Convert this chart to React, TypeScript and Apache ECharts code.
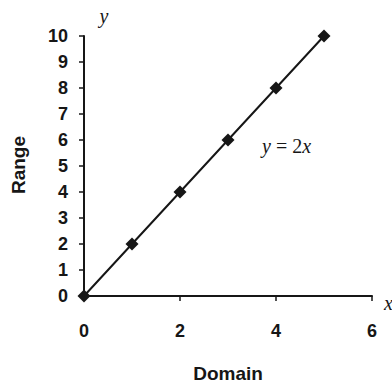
import React, { useEffect, useRef } from "react";
import * as echarts from "echarts";

// Domain values and the corresponding range values of y = 2x
const domainValues = [0, 1, 2, 3, 4, 5];
const rangeValues = [0, 2, 4, 6, 8, 10];

const xTicks = { min: 0, max: 6, interval: 2 };
const yTicks = { min: 0, max: 10, interval: 1 };

const INK = "#161616";

export default function App() {
  const ref = useRef<HTMLDivElement>(null);

  useEffect(() => {
    if (!ref.current) return;
    const chart = echarts.init(ref.current, undefined, { renderer: "svg" });
    const points = domainValues.map((x, i) => [x, rangeValues[i]]);
    chart.setOption({
      animation: false,
      backgroundColor: "#ffffff",
      grid: { left: 84, right: 20, top: 36, bottom: 82, containLabel: false },
      xAxis: {
        type: "value",
        min: xTicks.min,
        max: xTicks.max,
        interval: xTicks.interval,
        axisLine: { onZero: false, lineStyle: { color: INK, width: 2 } },
        axisTick: { show: true, length: 5, lineStyle: { color: INK, width: 1.5 } },
        splitLine: { show: false },
        axisLabel: {
          color: INK,
          fontFamily: "Liberation Sans, Arial, sans-serif",
          fontWeight: "bold",
          fontSize: 18,
          margin: 26,
        },
        name: "Domain",
        nameLocation: "middle",
        nameGap: 68,
        nameTextStyle: {
          color: INK,
          fontFamily: "Liberation Sans, Arial, sans-serif",
          fontWeight: "bold",
          fontSize: 19,
        },
      },
      yAxis: {
        type: "value",
        min: yTicks.min,
        max: yTicks.max,
        interval: yTicks.interval,
        axisLine: { show: true, onZero: false, lineStyle: { color: INK, width: 2 } },
        axisTick: { show: true, length: 5, lineStyle: { color: INK, width: 1.5 } },
        splitLine: { show: false },
        axisLabel: {
          color: INK,
          fontFamily: "Liberation Sans, Arial, sans-serif",
          fontWeight: "bold",
          fontSize: 18,
          margin: 16,
        },
      },
      graphic: [
        {
          type: "text",
          x: 18,
          y: 165,
          rotation: Math.PI / 2,
          style: {
            text: "Range",
            fill: INK,
            font: "bold 19px 'Liberation Sans', Arial, sans-serif",
            align: "center",
            verticalAlign: "middle",
          },
        },
        {
          type: "text",
          x: 104,
          y: 16,
          style: {
            text: "y",
            fill: INK,
            font: "italic 20px 'Liberation Serif', 'Times New Roman', serif",
            align: "center",
            verticalAlign: "middle",
          },
        },
        {
          type: "text",
          x: 384,
          y: 303,
          style: {
            text: "x",
            fill: INK,
            font: "italic 20px 'Liberation Serif', 'Times New Roman', serif",
            align: "left",
            verticalAlign: "middle",
          },
        },
        {
          type: "text",
          x: 262,
          y: 146,
          style: {
            text: "{v|y} = 2{v|x}",
            fill: INK,
            font: "20px 'Liberation Serif', 'Times New Roman', serif",
            align: "left",
            verticalAlign: "middle",
            rich: {
              v: {
                fontStyle: "italic",
                fontFamily: "Liberation Serif, Times New Roman, serif",
                fontSize: 20,
                fill: INK,
              },
            },
          },
        },
      ],
      series: [
        {
          type: "line",
          data: points,
          symbol: "diamond",
          symbolSize: 13,
          lineStyle: { color: INK, width: 2 },
          itemStyle: { color: INK },
        },
      ],
    });
    return () => chart.dispose();
  }, []);

  return (
    <div
      ref={ref}
      style={{ position: "fixed", left: 0, top: 0, width: 392, height: 388 }}
    />
  );
}
